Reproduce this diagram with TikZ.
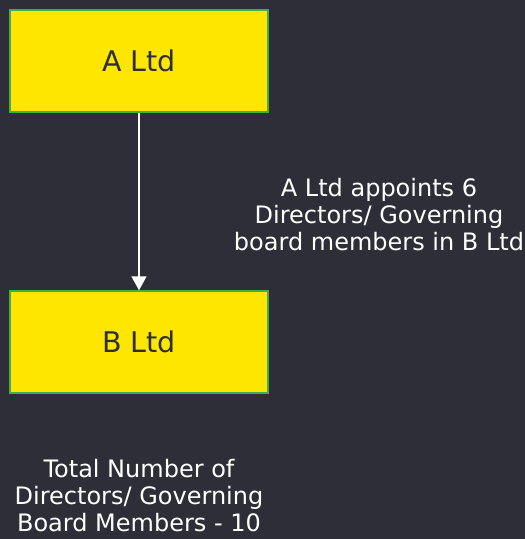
\documentclass[tikz,border=0pt]{standalone}
\usepackage{fontspec}
\setmainfont{DejaVu Sans}
\usetikzlibrary{positioning, arrows.meta}
\definecolor{eybg}{HTML}{2E2E38}
\definecolor{eyyellow}{HTML}{FFE600}
\definecolor{eygreen}{HTML}{3CB04A}
\tikzset{
  company/.style={draw=eygreen, line width=1.5pt, fill=eyyellow, text=eybg,
    minimum width=258pt, minimum height=102pt, font=\fontsize{28.5}{32}\selectfont},
  note/.style={text=white, align=center, font=\fontsize{24}{27}\selectfont}
}
\begin{document}
\begin{tikzpicture}[x=1pt, y=-1pt]
		% Background and bounds
		\fill[eybg] (0,0) rectangle (525,539);
		\useasboundingbox (0,0) rectangle (525,539);
		% Companies
		\node[company] (altd) at (139,61) {A Ltd};
		\node[company] (bltd) at (139,342) {B Ltd};
		% Appointment arrow
		\draw[white, line width=1.6pt, -{Triangle[width=15pt, length=14pt]}] (altd.south) -- (bltd.north);
		% Notes
		\node[note] (appoint) at (379,215) {A Ltd appoints 6\\Directors/ Governing\\board members in B Ltd};
		\node[note] (total) at (139,496) {Total Number of\\Directors/ Governing\\Board Members - 10};
	\end{tikzpicture}
\end{document}
